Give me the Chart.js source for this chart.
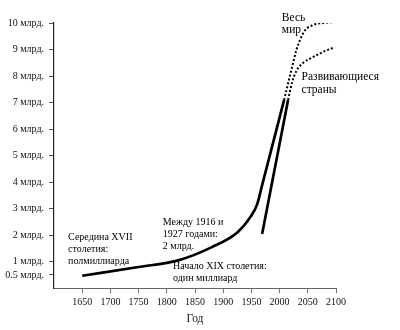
<!DOCTYPE html>
<html><head><meta charset="utf-8">
<script src="https://cdn.jsdelivr.net/npm/chart.js@4/dist/chart.umd.min.js"></script>
<style>html,body{margin:0;padding:0;background:#fff}#w{width:400px;height:330px}</style>
</head><body><div id="w"><canvas id="c"></canvas></div>
<script>
// ---- data ----
const yTickValues = [0.5, 1, 2, 3, 4, 5, 6, 7, 8, 9, 10];
const yTickLabels = ['0.5 млрд.', '1 млрд.', '2 млрд.', '3 млрд.', '4 млрд.', '5 млрд.', '6 млрд.', '7 млрд.', '8 млрд.', '9 млрд.', '10 млрд.'];
const xTickValues = [1650, 1700, 1750, 1800, 1850, 1900, 1950, 2000, 2050, 2100];

const worldYears = [1650, 1750, 1820, 1880, 1925, 1948, 1960, 1968, 2008];
const worldPop   = [0.47, 0.8, 1.05, 1.55, 2.1, 2.68, 3.15, 3.8, 7.1];

const devYears = [1969, 1990, 2015];
const devPop   = [2.04, 4.35, 7.1];

const worldProjYears = [2008, 2020, 2030, 2037, 2045, 2060, 2078, 2100];
const worldProjPop   = [7.1, 8.15, 9.0, 9.4, 9.72, 9.93, 10.0, 10.04];

const devProjYears = [2015, 2022, 2030, 2042, 2058, 2078, 2097];
const devProjPop   = [7.1, 7.75, 8.2, 8.5, 8.7, 8.92, 9.08];

// annotations: text lines anchored at (year, value)
const notes = [
  {lines: ['Середина XVII', 'столетия:', 'полмиллиарда'], year: 1625, value: 1.9, big: false},
  {lines: ['Между 1916 и', '1927 годами:', '2 млрд.'], year: 1793, value: 2.49, big: false},
  {lines: ['Начало XIX столетия:', 'один миллиард'], year: 1811, value: 0.82, big: false},
  {lines: ['Весь', 'мир'], year: 2004, value: 10.19, big: true},
  {lines: ['Развивающиеся', 'страны'], year: 2039, value: 7.96, big: true}
];

const pts = (xs, ys) => xs.map((x, i) => ({x, y: ys[i]}));
const FONT = "'Liberation Serif', 'DejaVu Serif', serif";

const notesPlugin = {
  id: 'notes',
  afterDatasetsDraw(chart) {
    const {ctx, scales: {x, y}} = chart;
    ctx.save();
    ctx.fillStyle = '#000';
    ctx.textAlign = 'left';
    ctx.textBaseline = 'middle';
    notes.forEach(n => {
      const size = n.big ? 11.5 : 10;
      const lh = n.big ? 12.5 : 12;
      ctx.font = size + 'px ' + FONT;
      const px = x.getPixelForValue(n.year);
      const py = y.getPixelForValue(n.value);
      n.lines.forEach((t, i) => ctx.fillText(t, px, py + i * lh));
    });
    ctx.restore();
  }
};

const solid = {borderColor: '#000', borderWidth: 2.7, pointRadius: 0, fill: false, cubicInterpolationMode: 'monotone'};
const dotted = {borderColor: '#000', borderWidth: 2, borderDash: [2, 2], pointRadius: 0, fill: false, cubicInterpolationMode: 'monotone'};

new Chart(document.getElementById('c'), {
  type: 'line',
  data: {
    datasets: [
      Object.assign({label: 'Весь мир', data: pts(worldYears, worldPop)}, solid),
      Object.assign({label: 'Развивающиеся страны', data: pts(devYears, devPop)}, solid),
      Object.assign({label: 'Весь мир (прогноз)', data: pts(worldProjYears, worldProjPop)}, dotted),
      Object.assign({label: 'Развивающиеся страны (прогноз)', data: pts(devProjYears, devProjPop)}, dotted)
    ]
  },
  options: {
    responsive: true,
    maintainAspectRatio: false,
    animation: false,
    devicePixelRatio: 1,
    layout: {padding: {left: 0, right: 64, top: 23, bottom: 0}},
    plugins: {legend: {display: false}, tooltip: {enabled: false}},
    scales: {
      x: {
        type: 'linear', min: 1600, max: 2100,
        afterBuildTicks: s => { s.ticks = xTickValues.map(v => ({value: v})); },
        ticks: {color: '#111', font: {family: FONT, size: 10}, padding: 3, maxRotation: 0, autoSkip: false,
                callback: v => String(v)},
        grid: {display: true, drawOnChartArea: false, drawTicks: true, tickLength: 5, color: '#777', lineWidth: 1},
        border: {display: true, color: '#666', width: 1},
        title: {display: true, text: 'Год', color: '#111', font: {family: FONT, size: 11.5}, padding: {top: 1, bottom: 4}}
      },
      y: {
        type: 'linear', min: 0, max: 10,
        afterBuildTicks: s => { s.ticks = yTickValues.map(v => ({value: v})); },
        afterFit: s => { s.width = 54; },
        ticks: {color: '#111', font: {family: FONT, size: 10}, padding: 5, autoSkip: false,
                callback: v => { const i = yTickValues.indexOf(v); return i >= 0 ? yTickLabels[i] : ''; }},
        grid: {display: true, drawOnChartArea: false, drawTicks: true, tickLength: 5, color: '#555', lineWidth: 1},
        border: {display: true, color: '#222', width: 1.2}
      }
    }
  },
  plugins: [notesPlugin]
});
</script>
</body></html>
